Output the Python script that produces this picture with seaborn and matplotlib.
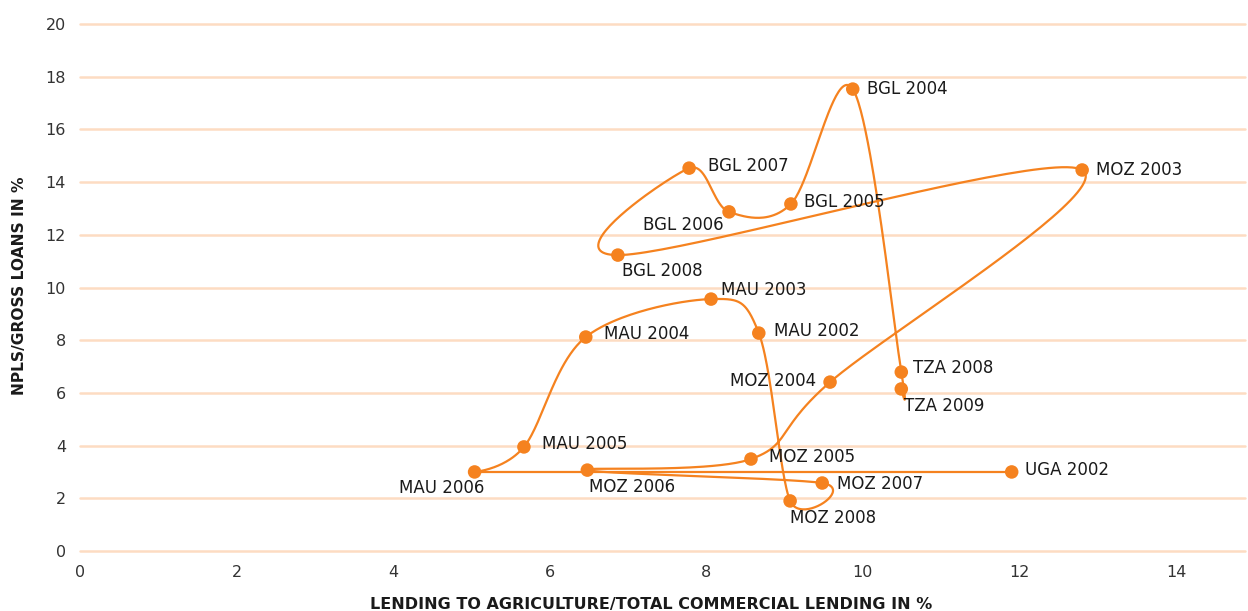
import numpy as np
import pandas as pd
import matplotlib
matplotlib.use("Agg")
import matplotlib.pyplot as plt
import seaborn as sns

# ---- data (path order as drawn) ----
labels = ["TZA 2009", "TZA 2008", "BGL 2004", "BGL 2005", "BGL 2006", "BGL 2007",
          "BGL 2008", "MOZ 2003", "MOZ 2004", "MOZ 2005", "MOZ 2006", "MOZ 2007",
          "MOZ 2008", "MAU 2002", "MAU 2003", "MAU 2004", "MAU 2005", "MAU 2006",
          "UGA 2002"]
lending = [10.49, 10.49, 9.87, 9.08, 8.29, 7.78, 6.87, 12.80, 9.58, 8.57, 6.48, 9.48,
           9.07, 8.67, 8.06, 6.46, 5.67, 5.04, 11.90]
npl = [6.15, 6.79, 17.53, 13.17, 12.87, 14.53, 11.23, 14.46, 6.41, 3.49, 3.07, 2.58,
       1.90, 8.27, 9.56, 8.12, 3.95, 3.00, 3.00]
# the smooth line restarts (sharp corner) at these points
corner_points = ["MAU 2006"]
x_ticks = [0, 2, 4, 6, 8, 10, 12, 14]
y_ticks = [0, 2, 4, 6, 8, 10, 12, 14, 16, 18, 20]

# label placement: (dx px, dy px, ha)  dy positive = up
label_pos = {
    "TZA 2009": (3, -17, "left"), "TZA 2008": (12, 4, "left"),
    "BGL 2004": (14, 0, "left"), "BGL 2005": (13, 2, "left"),
    "BGL 2006": (-5, -13, "right"), "BGL 2007": (19, 2, "left"),
    "BGL 2008": (4, -16, "left"), "MOZ 2003": (14, 0, "left"),
    "MOZ 2004": (-14, 1, "right"), "MOZ 2005": (18, 2, "left"),
    "MOZ 2006": (2, -17, "left"), "MOZ 2007": (15, -1, "left"),
    "MOZ 2008": (0, -17, "left"), "MAU 2002": (15, 2, "left"),
    "MAU 2003": (10, 9, "left"), "MAU 2004": (18, 3, "left"),
    "MAU 2005": (18, 3, "left"), "MAU 2006": (10, -16, "right"),
    "UGA 2002": (13, 2, "left"),
}

ORANGE = "#f5821f"
GRID = "#fddcc2"
TXT = "#1a1a1a"

sns.set_theme(style="white")
plt.rcParams["font.family"] = ["DejaVu Sans"]

fig = plt.figure(figsize=(12.48, 6.11), dpi=100)
ax = fig.add_axes([80 / 1248, 1 - 551 / 611, 1 - 80 / 1248 - 3 / 1248, (551 - 24) / 611])
ax.set_xlim(0, 14.88)
ax.set_ylim(0, 20)

df = pd.DataFrame({"label": labels, "x": lending, "y": npl})


def cardinal(P, k=1 / 6, steps=50):
    n = len(P)
    t = np.linspace(0, 1, steps)[:, None]
    out = []
    for i in range(n - 1):
        p1, p2 = P[i], P[i + 1]
        c1 = p1 + k * (p2 - P[i - 1]) if i > 0 else p1
        c2 = p2 - k * (P[i + 2] - p1) if i + 2 < n else p2
        seg = ((1 - t) ** 3) * p1 + 3 * ((1 - t) ** 2) * t * c1 + 3 * (1 - t) * t ** 2 * c2 + t ** 3 * p2
        out.append(seg if i == 0 else seg[1:])
    return np.vstack(out)


# split the path at corner points
P = np.column_stack([df.x, df.y])
cuts = [0] + [labels.index(c) for c in corner_points] + [len(labels) - 1]
parts = []
for g, (a, b) in enumerate(zip(cuts[:-1], cuts[1:])):
    c = cardinal(P[a:b + 1])
    parts.append(pd.DataFrame({"x": c[:, 0], "y": c[:, 1], "g": g}))
cdf = pd.concat(parts, ignore_index=True)

for yt in y_ticks:
    ax.axhline(yt, color=GRID, lw=1.8, zorder=0, clip_on=False)

sns.lineplot(data=cdf, x="x", y="y", units="g", sort=False, estimator=None, color=ORANGE,
             lw=1.6, ax=ax, zorder=2)
sns.scatterplot(data=df, x="x", y="y", color=ORANGE, s=95, edgecolor="none",
                ax=ax, zorder=3, clip_on=False)

for lab, xv, yv in zip(labels, lending, npl):
    dx, dy, ha = label_pos[lab]
    ax.annotate(lab, (xv, yv), xytext=(dx * 0.72, dy * 0.72), textcoords="offset points",
                ha=ha, va="center", fontsize=12, color=TXT, zorder=4)

ax.set_xticks(x_ticks)
ax.set_yticks(y_ticks)
ax.tick_params(axis="both", length=0, labelsize=11.5, colors="#333333")
ax.tick_params(axis="x", pad=10)
ax.tick_params(axis="y", pad=10)
for s in ax.spines.values():
    s.set_visible(False)
ax.grid(False)
ax.set_xlabel("")
ax.set_ylabel("")
fig.text(651 / 1248, 1 - 604 / 611, "LENDING TO AGRICULTURE/TOTAL COMMERCIAL LENDING IN %",
         ha="center", va="center", fontsize=11.5, fontweight="bold", color=TXT)
fig.text(20 / 1248, 1 - 286 / 611, "NPLS/GROSS LOANS IN %", rotation=90,
         ha="center", va="center", fontsize=11.2, fontweight="bold", color=TXT)

fig.savefig("out.png", dpi=100)
